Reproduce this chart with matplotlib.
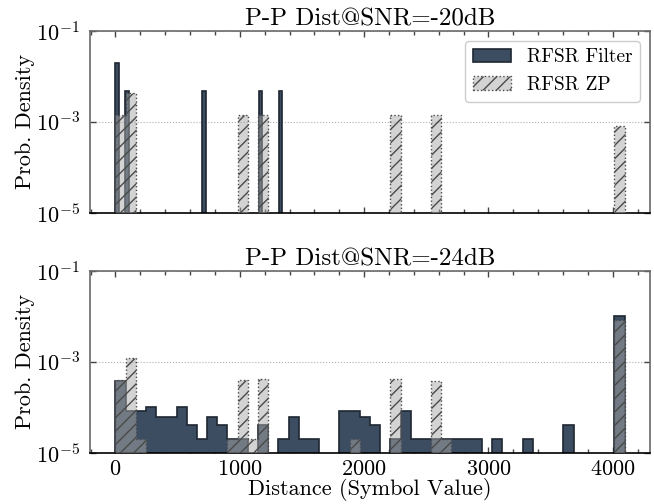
import numpy as np
import matplotlib
matplotlib.use('Agg')
import matplotlib.pyplot as plt
from matplotlib.ticker import MultipleLocator, FixedLocator, LogFormatterSciNotation, NullLocator

plt.rcParams['font.family'] = ['cmr10', 'DejaVu Serif']
plt.rcParams['mathtext.fontset'] = 'cm'
plt.rcParams['axes.formatter.use_mathtext'] = True
plt.rcParams['hatch.linewidth'] = 0.5
plt.rcParams['axes.linewidth'] = 0.6

# ---------------- data ----------------
n_bins = 50
full_range = (0, 4095)
top_filter_range = (0, 1342)

titles = ["P-P Dist@SNR=-20dB", "P-P Dist@SNR=-24dB"]
labels = ["RFSR Filter", "RFSR ZP"]

# SNR = -20 dB (sparse bins: index -> density)
top_filter_bins = [0, 3, 26, 43, 49]
top_filter_density = [1.94e-2, 4.7e-3, 4.7e-3, 4.7e-3, 4.7e-3]
top_zp_bins = [0, 1, 12, 14, 27, 31, 49]
top_zp_density = [1.43e-3, 4.3e-3, 1.43e-3, 1.43e-3, 1.43e-3, 1.43e-3, 8.3e-4]

# SNR = -24 dB
bottom_filter_density = [
    3.7e-4, 8.1e-5, 8.1e-5, 1.0e-4, 6.1e-5, 6.1e-5, 1.0e-4, 4.1e-5, 2.0e-5, 6.1e-5,
    4.1e-5, 2.0e-5, 2.0e-5, 0.0, 4.1e-5, 0.0, 2.0e-5, 6.1e-5, 2.0e-5, 2.0e-5,
    0.0, 0.0, 8.1e-5, 8.1e-5, 6.1e-5, 4.1e-5, 0.0, 2.0e-5, 8.1e-5, 2.0e-5,
    2.0e-5, 2.0e-5, 2.0e-5, 2.0e-5, 2.0e-5, 2.0e-5, 0.0, 2.0e-5, 0.0, 0.0,
    2.0e-5, 0.0, 0.0, 0.0, 4.1e-5, 0.0, 0.0, 0.0, 0.0, 1.01e-2,
]
bottom_zp_bins = [0, 1, 2, 11, 12, 13, 14, 23, 27, 31, 32, 49]
bottom_zp_density = [4.0e-4, 1.2e-3, 2.0e-5, 2.0e-5, 4.0e-4, 2.0e-5, 4.1e-4,
                     2.0e-5, 4.1e-4, 3.8e-4, 2.0e-5, 8.2e-3]

# ---------------- styles ----------------
filter_face = '#3c4c61'
filter_edge = '#1e2631'
zp_face = (0.66, 0.66, 0.66, 0.5)
zp_edge = '#4a4a4a'


def bin_geometry(rng):
    edges = np.linspace(rng[0], rng[1], n_bins + 1)
    centers = 0.5 * (edges[:-1] + edges[1:])
    return edges, centers


fig, axes = plt.subplots(2, 1, figsize=(3.27, 2.52), dpi=200, sharex=True)
fig.subplots_adjust(left=0.1376, right=0.9939, top=0.9385, bottom=0.1018, hspace=0.32)

full_edges, full_centers = bin_geometry(full_range)
tf_edges, tf_centers = bin_geometry(top_filter_range)

panels = [
    (tf_edges, tf_centers[top_filter_bins], top_filter_density,
     full_centers[top_zp_bins], top_zp_density),
    (full_edges, full_centers, bottom_filter_density,
     full_centers[bottom_zp_bins], bottom_zp_density),
]

for ax, title, (f_edges, f_x, f_w, z_x, z_w) in zip(axes, titles, panels):
    ax.hist(f_x, bins=f_edges, weights=f_w, histtype='stepfilled', log=True,
            facecolor=filter_face, edgecolor=filter_edge, linewidth=0.6,
            label=labels[0], zorder=2)
    ax.hist(z_x, bins=full_edges, weights=z_w, histtype='stepfilled', log=True,
            facecolor=zp_face, edgecolor=zp_edge, linewidth=0.5, linestyle=':',
            hatch='/////', label=labels[1], zorder=3)
    ax.set_yscale('log', nonpositive='clip')
    ax.set_ylim(1e-5, 1e-1)
    ax.margins(x=0.05)
    ax.yaxis.set_major_locator(FixedLocator([1e-5, 1e-3, 1e-1]))
    ax.yaxis.set_major_formatter(LogFormatterSciNotation())
    ax.yaxis.set_minor_locator(NullLocator())
    ax.xaxis.set_major_locator(MultipleLocator(1000))
    ax.xaxis.set_minor_locator(MultipleLocator(200))
    ax.tick_params(which='both', direction='in', top=True, right=True,
                   labelsize=8, width=0.5, color='#444444')
    ax.tick_params(which='major', length=2.2)
    ax.tick_params(which='minor', length=1.4)
    ax.tick_params(axis='x', pad=2.5)
    ax.grid(axis='y', which='major', linestyle=':', color='#b0b0b0', linewidth=0.4, zorder=0)
    ax.set_axisbelow(True)
    for side in ('left', 'top', 'right'):
        ax.spines[side].set_color('#6a6a6a')
    ax.spines['bottom'].set_color('black')
    ax.set_title(title, fontsize=9, pad=2)
    ax.set_ylabel('Prob. Density', fontsize=8, labelpad=0.5)

axes[1].set_xlabel('Distance (Symbol Value)', fontsize=8, labelpad=-0.5)
leg = axes[0].legend(loc='upper right', fontsize=7, frameon=True, fancybox=True,
                     edgecolor='#cccccc', framealpha=1.0)
leg.get_frame().set_linewidth(0.5)

fig.savefig('out.png', dpi=200)
